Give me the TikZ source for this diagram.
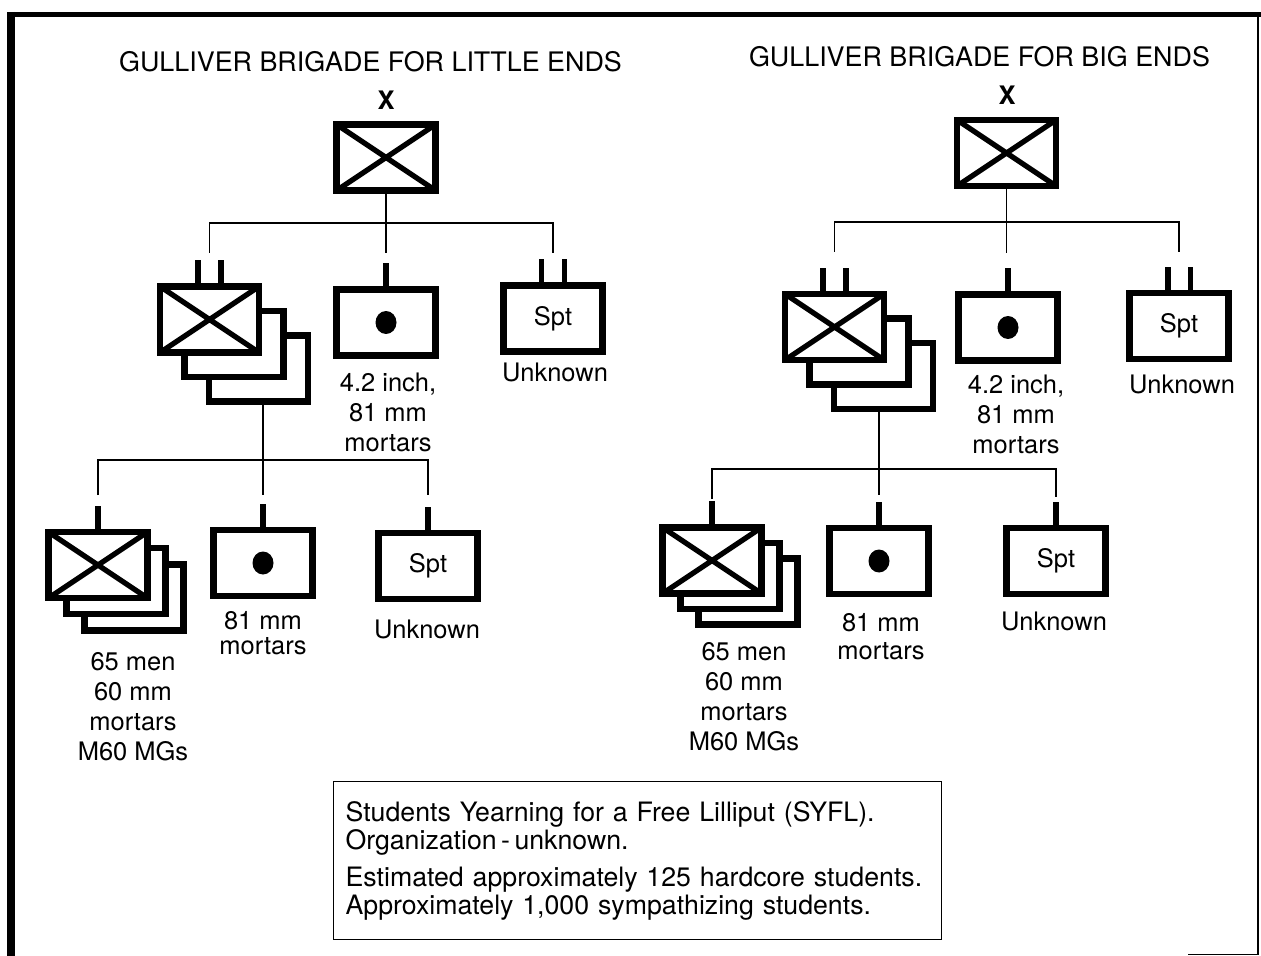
\documentclass[tikz,border=0pt]{standalone}
\usepackage{fontspec}
\setmainfont{TeX Gyre Heros}
\usetikzlibrary{calc}

\begin{document}
\begin{tikzpicture}[x=0.02cm,y=-0.02cm,
  unit/.style={draw,line width=3.8pt,fill=white,inner sep=0pt,
    minimum width=1.98cm,minimum height=1.32cm,
    font=\fontsize{14.5}{17}\selectfont},
  inf/.style={unit,path picture={%
    \draw[line width=3pt] (path picture bounding box.north west)
      -- (path picture bounding box.south east)
      (path picture bounding box.south west)
      -- (path picture bounding box.north east);}},
  tick/.style={line width=3.4pt},
  conn/.style={line width=0.6pt},
  txt/.style={inner sep=0pt,align=center,
    font=\fontsize{14.5}{17}\selectfont},
  echelon/.style={txt,font=\fontsize{14.5}{17}\selectfont\bfseries},
  notes/.style={draw,line width=0.7pt,inner xsep=0.24cm,
    text width=11.68cm,minimum height=3.16cm,align=left,
    font=\fontsize{15.2}{16}\selectfont}]
\useasboundingbox (0,0) rectangle (1261,956);
% frame
\draw[line width=2.8pt] (7,14.5) -- (1261,14.5);
\draw[line width=4.5pt] (11,12) -- (11,956);
\draw[line width=1.1pt] (1258,14) -- (1258,955);
\draw[line width=0.8pt] (1188,954.5) -- (1258,954.5);
%
% little ends
\node[txt,anchor=base,font=\fontsize{15.3}{17}\selectfont] (ltitle)
  at (370.5,72) {GULLIVER BRIGADE FOR LITTLE ENDS};
\node[echelon,anchor=base] (lx) at (386,110) {X};
\node[inf] (ltop) at (386,157.5) {};
\node[unit] (lbn3) at (258.5,368.5) {};
\node[unit] (lbn2) at (234,344) {};
\node[inf] (lbn) at (209.5,319.5) {};
\node[unit] (lmor) at (386,322.5) {};
\fill (lmor) ellipse (0.21cm and 0.23cm);
\node[unit] (lspt) at (553,318.5) {Spt};
\node[txt,anchor=north] (lmorlab) at (388,373) {4.2 inch,\\81 mm\\mortars};
\node[txt,anchor=north] (lsptlab) at (555,363) {Unknown};
%
\node[unit] (lco3) at (134,597.5) {};
\node[unit] (lco2) at (116,581) {};
\node[inf] (lco) at (98,565) {};
\node[unit] (lcmor) at (263,563) {};
\fill (lcmor) ellipse (0.21cm and 0.23cm);
\node[unit] (lcspt) at (428,566) {Spt};
\node[txt,anchor=north] (lcolab) at (133,652) {65 men\\60 mm\\mortars\\M60 MGs};
\node[txt,anchor=north,font=\fontsize{14.5}{14.5}\selectfont] (lcmorlab)
  at (263,611) {81 mm\\mortars};
\node[txt,anchor=north] (lcsptlab) at (427,620) {Unknown};
%
\draw[tick] ([xshift=-0.23cm]lbn.north) -- ++(0,-23);
\draw[tick] ([xshift=0.23cm]lbn.north) -- ++(0,-23);
\draw[tick] (lmor.north) -- ++(0,-23);
\draw[tick] ([xshift=-0.23cm]lspt.north) -- ++(0,-23);
\draw[tick] ([xshift=0.23cm]lspt.north) -- ++(0,-23);
\draw[tick] (lco.north) -- ++(0,-23);
\draw[tick] (lcmor.north) -- ++(0,-23);
\draw[tick] (lcspt.north) -- ++(0,-23);
%
\coordinate (lbus) at (386,223);
\draw[conn] (ltop.south) -- ($(ltop.south |- lbus)+(0,30)$);
\draw[conn] ($(lbn.north |- lbus)+(0,30)$) -- (lbn.north |- lbus)
  -- (lspt.north |- lbus) -- ($(lspt.north |- lbus)+(0,30)$);
\coordinate (lcbus) at (263,460);
\draw[conn] (lbn3.south -| lcmor) -- ($(lcmor |- lcbus)+(0,35)$);
\draw[conn] ($(lco.north |- lcbus)+(0,35)$) -- (lco.north |- lcbus)
  -- (lcspt.north |- lcbus) -- ($(lcspt.north |- lcbus)+(0,35)$);
%
% big ends
\node[txt,anchor=base,font=\fontsize{15.3}{17}\selectfont] (rtitle)
  at (979.5,67) {GULLIVER BRIGADE FOR BIG ENDS};
\node[echelon,anchor=base] (rx) at (1007,105) {X};
\node[inf] (rtop) at (1006.5,153) {};
\node[unit] (rbn3) at (883.5,376) {};
\node[unit] (rbn2) at (859,351.5) {};
\node[inf] (rbn) at (834.5,327) {};
\node[unit] (rmor) at (1008,327.5) {};
\fill (rmor) ellipse (0.21cm and 0.23cm);
\node[unit] (rspt) at (1179,326) {Spt};
\node[txt,anchor=north] (rmorlab) at (1016,375) {4.2 inch,\\81 mm\\mortars};
\node[txt,anchor=north] (rsptlab) at (1182,375) {Unknown};
%
\node[unit] (rco3) at (748,591.5) {};
\node[unit] (rco2) at (730,576) {};
\node[inf] (rco) at (712,560.5) {};
\node[unit] (rcmor) at (879,561) {};
\fill (rcmor) ellipse (0.21cm and 0.23cm);
\node[unit] (rcspt) at (1056,561) {Spt};
\node[txt,anchor=north] (rcolab) at (744,642) {65 men\\60 mm\\mortars\\M60 MGs};
\node[txt,anchor=north,font=\fontsize{14.5}{16}\selectfont] (rcmorlab)
  at (881,613) {81 mm\\mortars};
\node[txt,anchor=north] (rcsptlab) at (1054,612) {Unknown};
%
\draw[tick] ([xshift=-0.23cm]rbn.north) -- ++(0,-23);
\draw[tick] ([xshift=0.23cm]rbn.north) -- ++(0,-23);
\draw[tick] (rmor.north) -- ++(0,-23);
\draw[tick] ([xshift=-0.23cm]rspt.north) -- ++(0,-23);
\draw[tick] ([xshift=0.23cm]rspt.north) -- ++(0,-23);
\draw[tick] (rco.north) -- ++(0,-23);
\draw[tick] (rcmor.north) -- ++(0,-23);
\draw[tick] (rcspt.north) -- ++(0,-23);
%
\coordinate (rbus) at (1006.5,222);
\draw[conn] (rtop.south) -- ($(rtop.south |- rbus)+(0,31)$);
\draw[conn] ($(rbn.north |- rbus)+(0,30)$) -- (rbn.north |- rbus)
  -- (rspt.north |- rbus) -- ($(rspt.north |- rbus)+(0,30)$);
\coordinate (rcbus) at (879,469);
\draw[conn] (rbn3.south -| rcmor) -- ($(rcmor |- rcbus)+(0,26)$);
\draw[conn] ($(rco.north |- rcbus)+(0,30)$) -- (rco.north |- rcbus)
  -- (rcspt.north |- rcbus) -- ($(rcspt.north |- rcbus)+(0,28)$);
%
% notes
\node[notes,anchor=north west] (syfl) at (333,781) {Students Yearning for a Free Lilliput (SYFL).\\
Organization\,-\,unknown.\\[5pt]
Estimated approximately 125 hardcore students.\\
Approximately 1,000 sympathizing students.};
\end{tikzpicture}
\end{document}
